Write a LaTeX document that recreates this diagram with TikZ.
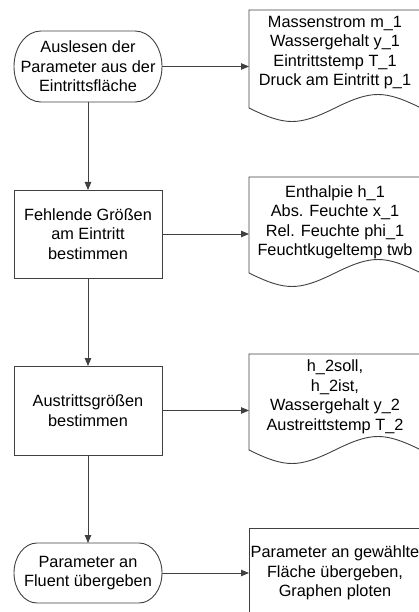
\documentclass[tikz,border=0pt]{standalone}
\usepackage{fontspec}
\setmainfont{Liberation Sans}
\usetikzlibrary{arrows.meta,calc}
\definecolor{lncol}{RGB}{64,64,64}
\newcommand\termoutline[3]{%
  \draw[conn] ([xshift=#2]#1.north west) -- ([xshift=-#2]#1.north east)
    arc[start angle=90,end angle=-90,x radius=#2,y radius=#3]
    -- ([xshift=#2]#1.south west)
    arc[start angle=270,end angle=90,x radius=#2,y radius=#3] -- cycle;}
\newcommand\docoutline[1]{%
  \draw[conn] (#1.south west) -- (#1.north west) -- (#1.north east) -- (#1.south east)
    .. controls +(-36.5,-18) and +(36.5,-18) .. (#1.south)
    .. controls +(-36.5,18) and +(36.5,18) .. (#1.south west) -- cycle;}
\begin{document}
\begin{tikzpicture}[x=1pt,y=-1pt,
  conn/.style={draw=lncol, line width=0.9pt},
  arr/.style={conn, -{Triangle[length=8pt,width=6.5pt]}},
  txt/.style={align=center, font=\fontsize{16.3pt}{19.5pt}\selectfont, inner sep=0pt, outer sep=0pt, text=black},
  procbox/.style={txt, draw=lncol, line width=0.9pt, minimum width=148pt},
  termbox/.style={txt, minimum width=148pt},
  docbox/.style={inner sep=0pt, outer sep=0pt, minimum width=172pt}
]
\useasboundingbox (0,0) rectangle (418,612);
% left column
\node[termbox, minimum height=71pt] (t1) at (88,66.5) {Auslesen der\\Parameter aus der\\Eintrittsfläche};
\termoutline{t1}{27pt}{35.5pt}
\node[procbox, minimum height=88pt] (b2) at (88,234) {Fehlende Größen\\am Eintritt\\bestimmen};
\node[procbox, minimum height=89pt] (b3) at (88,410.5) {Austrittsgrößen\\bestimmen};
\node[termbox, minimum height=60pt] (t4) at (88,573) {Parameter an\\Fluent übergeben};
\termoutline{t4}{23pt}{30pt}
% right column
\node[docbox, minimum height=98pt] (d1) at (335,59) {};
\docoutline{d1}
\node[txt] (d1t) at (335,52.5) {Massenstrom m\_1\\Wassergehalt y\_1\\Eintrittstemp T\_1\\Druck am Eintritt p\_1};
\node[docbox, minimum height=96pt] (d2) at (335,225) {};
\docoutline{d2}
\node[txt] (d2t) at (335,222.5) {Enthalpie h\_1\\Abs. Feuchte x\_1\\Rel. Feuchte phi\_1\\Feuchtkugeltemp twb};
\node[docbox, minimum height=96pt] (d3) at (335,402) {};
\docoutline{d3}
\node[txt] (d3t) at (335,397) {h\_2soll,\\h\_2ist,\\Wassergehalt y\_2\\Austreittstemp T\_2};
\node[procbox, minimum width=172pt, minimum height=90pt] (b4) at (335,573) {Parameter an gewählte\\Fläche übergeben,\\Graphen ploten};
% connectors
\draw[arr] (t1.south) -- (b2.north);
\draw[arr] (b2.south) -- (b3.north);
\draw[arr] (b3.south) -- (t4.north);
\draw[arr] (t1.east) -- (t1.east -| d1.west);
\draw[arr] (b2.east) -- (b2.east -| d2.west);
\draw[arr] (b3.east) -- (b3.east -| d3.west);
\draw[arr] (t4.east) -- (b4.west);
\end{tikzpicture}
\end{document}
